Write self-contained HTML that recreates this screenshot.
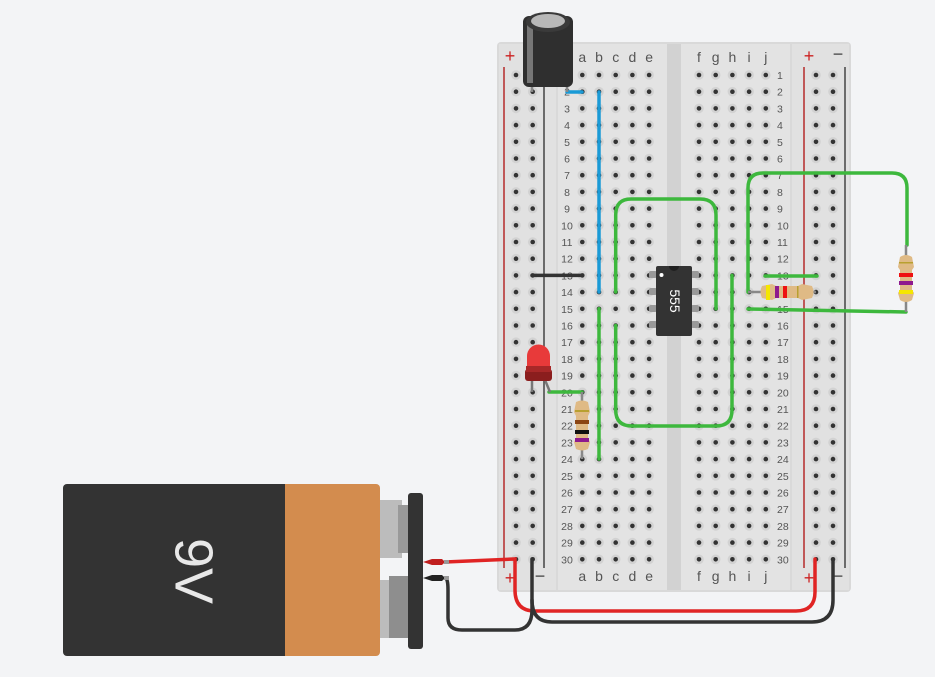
<!DOCTYPE html>
<html><head><meta charset="utf-8"><style>
html,body{margin:0;padding:0;background:#f3f4f6;}
svg{display:block;font-family:"Liberation Sans",sans-serif;}
</style></head><body>
<svg id="s" width="935" height="677" viewBox="0 0 935 677" xmlns="http://www.w3.org/2000/svg">
<rect width="935" height="677" fill="#f3f4f6"/>
<!-- breadboard -->
<rect x="497" y="42" width="354" height="550" rx="4" fill="#d9d9d9"/>
<rect x="499" y="44" width="57" height="546" fill="#e1e1e1"/>
<rect x="558" y="44" width="109" height="546" fill="#e3e3e3"/>
<rect x="667" y="44" width="14" height="546" fill="#d2d2d2"/>
<rect x="681" y="44" width="109" height="546" fill="#e3e3e3"/>
<rect x="792" y="44" width="57" height="546" fill="#e1e1e1"/>
<line x1="504" y1="67" x2="504" y2="568" stroke="#b52a2a" stroke-width="1.5"/>
<line x1="544" y1="67" x2="544" y2="568" stroke="#444" stroke-width="1.5"/>
<line x1="804" y1="67" x2="804" y2="568" stroke="#b52a2a" stroke-width="1.5"/>
<line x1="845" y1="67" x2="845" y2="568" stroke="#444" stroke-width="1.5"/>
<g font-size="18" text-anchor="middle">
<text x="510" y="62" fill="#c22">+</text>
<text x="809" y="62" fill="#c22">+</text><text x="838" y="60" fill="#444">−</text>
<text x="510" y="584" fill="#c22">+</text><text x="540" y="582" fill="#444">−</text>
<text x="809" y="584" fill="#c22">+</text><text x="838" y="582" fill="#444">−</text>
</g>
<g id="holes"></g>
<g id="labels" font-size="10.5" fill="#555"></g>

<!-- wires -->
<g fill="none" stroke-linecap="round">
<path d="M567,92 H582" stroke="#1a9ad6" stroke-width="3.5"/>
<path d="M599,92 V292" stroke="#1a9ad6" stroke-width="3.5"/>
<path d="M532,275.4 H582" stroke="#333" stroke-width="3.5"/>
<path d="M615.7,292 V215 Q615.7,199 631,199 H700 Q716,199 716,215 V308.8" stroke="#3db83d" stroke-width="3.5"/>
<path d="M615.7,325.5 V410 Q615.7,426 632,426 H716 Q732,426 732,410 V275.4" stroke="#3db83d" stroke-width="3.5"/>
<path d="M599,308.8 V459" stroke="#3db83d" stroke-width="3.5"/>
<path d="M549,392 H582" stroke="#3db83d" stroke-width="3.5"/>
<path d="M748,292 V188 Q748,173 763,173 H892 Q907,173 907,188 V245" stroke="#3db83d" stroke-width="3.5"/>
<path d="M748,309 L906,312" stroke="#3db83d" stroke-width="3.5"/>
<path d="M765,276 H817" stroke="#3db83d" stroke-width="3.5"/>
<!-- battery wires -->
<path d="M445,562 L515,559 V590 Q515,611 535,611 H796 Q815,611 815,592 V559" stroke="#e02424" stroke-width="3.5"/>
<path d="M445,578 Q448,578 448,590 V618 Q448,630 462,630 H515 Q532,630 532,610 V559" stroke="#333" stroke-width="3.5"/>
<path d="M532,600 Q532,622 552,622 H812 Q833,622 833,600 V559" stroke="#333" stroke-width="3.5"/>
</g>

<!-- capacitor -->
<line x1="532" y1="80" x2="532" y2="92" stroke="#888" stroke-width="2.5"/>
<line x1="567" y1="80" x2="567" y2="92" stroke="#888" stroke-width="2.5"/>
<rect x="523" y="16" width="50" height="71" rx="6" fill="#2f2f2f"/>
<rect x="527" y="20" width="6" height="63" fill="#777"/>
<ellipse cx="548" cy="22" rx="22" ry="10" fill="#3a3a3a"/>
<ellipse cx="548" cy="21" rx="17" ry="7" fill="#b8b8b8"/>

<!-- LED -->
<line x1="532" y1="380" x2="532" y2="392" stroke="#777" stroke-width="2.5"/>
<path d="M545,380 L550,392" stroke="#777" stroke-width="2.5"/>
<rect x="525" y="369" width="27" height="12" rx="3" fill="#8b1e1e"/>
<path d="M527,372 V356 A11.5,11.5 0 0 1 550,356 V372 Z" fill="#e83a3a"/>
<rect x="526" y="366" width="25" height="6" fill="#a82828"/>

<!-- vertical resistor col a -->
<line x1="582" y1="392" x2="582" y2="459" stroke="#888" stroke-width="2.5"/>
<path d="M576,402 Q582,399 588,402 L590,412 L588,416 V438 L590,442 L588,449 Q582,452 576,449 L574,442 L576,438 V416 L574,412 Z" fill="#dfba85"/>
<rect x="575" y="410" width="14" height="2" fill="#b8a030"/>
<rect x="575" y="420" width="14" height="4" fill="#8b4513"/>
<rect x="575" y="430" width="14" height="4" fill="#111"/>
<rect x="575" y="438" width="14" height="4" fill="#8e1a8e"/>

<!-- horizontal resistor row14 -->
<line x1="748" y1="292" x2="816" y2="292" stroke="#888" stroke-width="2.5"/>
<path d="M762,286 Q759,292 762,298 L772,300 L776,298 H798 L802,300 L812,298 Q815,292 812,286 L802,284 L798,286 H776 L772,284 Z" fill="#dfba85"/>
<rect x="766" y="285" width="4" height="15" fill="#f5e600"/>
<rect x="775" y="286" width="4" height="12" fill="#8e1a8e"/>
<rect x="783" y="286" width="4" height="12" fill="#e11"/>
<rect x="797" y="286" width="1.5" height="12" fill="#b8a030"/>

<!-- vertical resistor right -->
<line x1="906" y1="245" x2="906" y2="312" stroke="#888" stroke-width="2.5"/>
<path d="M900,257 Q906,253 912,257 L914,267 L912,270 V290 L914,293 L912,300 Q906,304 900,300 L898,293 L900,290 V270 L898,267 Z" fill="#dfba85"/>
<rect x="899" y="262" width="14" height="1.5" fill="#b8a030"/>
<rect x="899" y="273" width="14" height="4" fill="#e11"/>
<rect x="899" y="281" width="14" height="4" fill="#8e1a8e"/>
<rect x="899" y="290" width="14" height="4" fill="#f5e600"/>

<!-- 555 chip -->
<g fill="#999">
<rect x="649" y="271" width="8" height="7" rx="2"/><rect x="649" y="288" width="8" height="7" rx="2"/><rect x="649" y="305" width="8" height="7" rx="2"/><rect x="649" y="321" width="8" height="7" rx="2"/>
<rect x="691" y="271" width="8" height="7" rx="2"/><rect x="691" y="288" width="8" height="7" rx="2"/><rect x="691" y="305" width="8" height="7" rx="2"/><rect x="691" y="321" width="8" height="7" rx="2"/>
</g>
<rect x="656" y="266" width="36" height="70" rx="2" fill="#333"/>
<path d="M669,266 A5,5 0 0 0 679,266 Z" fill="#1f1f1f"/>
<circle cx="661.5" cy="275" r="2" fill="#fff"/>
<text x="0" y="0" transform="translate(670,301) rotate(90)" font-size="14" fill="#fff" text-anchor="middle">555</text>

<!-- battery -->
<rect x="63" y="484" width="230" height="172" rx="4" fill="#333"/>
<rect x="285" y="484" width="95" height="172" rx="4" fill="#d38c4e"/>
<rect x="285" y="484" width="6" height="172" fill="#d38c4e"/>
<rect x="380" y="500" width="22" height="58" fill="#bcbcbc"/>
<rect x="398" y="505" width="12" height="48" fill="#999"/>
<rect x="380" y="580" width="10" height="58" fill="#bcbcbc"/>
<rect x="389" y="576" width="21" height="62" fill="#8e8e8e"/>
<rect x="408" y="493" width="15" height="156" rx="3" fill="#333"/>
<text transform="translate(190,571) rotate(90)" font-size="54" fill="#e8e8e8" text-anchor="middle" dominant-baseline="middle">9V</text>
<path d="M423,562 L432,559 H442 L445,562 L442,565 H432 Z" fill="#c01f1f"/>
<path d="M423,578 L432,575 H442 L445,578 L442,581 H432 Z" fill="#222"/>
<rect x="444" y="560" width="5" height="4" fill="#999"/>
<rect x="444" y="576" width="5" height="4" fill="#999"/>
</svg>
<script>
(function(){
var NS="http://www.w3.org/2000/svg";
var h=document.getElementById("holes"),L=document.getElementById("labels");
function dot(x,y){
 var c=document.createElementNS(NS,"circle");c.setAttribute("cx",x);c.setAttribute("cy",y);c.setAttribute("r",4.8);c.setAttribute("fill","#d2d2d2");h.appendChild(c);
 c=document.createElementNS(NS,"circle");c.setAttribute("cx",x);c.setAttribute("cy",y);c.setAttribute("r",2.3);c.setAttribute("fill","#333");h.appendChild(c);}
function txt(x,y,s,a,sz){var t=document.createElementNS(NS,"text");t.setAttribute("x",x);t.setAttribute("y",y);t.setAttribute("text-anchor",a||"middle");if(sz)t.setAttribute("font-size",sz);t.textContent=s;L.appendChild(t);}
var sp=16.7;
for(var r=0;r<30;r++){
 var y=75+r*sp;
 var cols=[516,532.7,816,833];
 for(var i=0;i<5;i++){cols.push(582.3+i*sp);cols.push(699+i*sp);}
 cols.forEach(function(x){dot(x,y);});
 txt(567,y+4,String(r+1),"middle");
 txt(777,y+4,String(r+1),"start");
}
var a="abcde",f="fghij";
for(var i=0;i<5;i++){txt(582.3+i*sp,62,a[i],"middle",14);txt(699+i*sp,62,f[i],"middle",14);
 txt(582.3+i*sp,581,a[i],"middle",14);txt(699+i*sp,581,f[i],"middle",14);}
})();
</script>
</body></html>
